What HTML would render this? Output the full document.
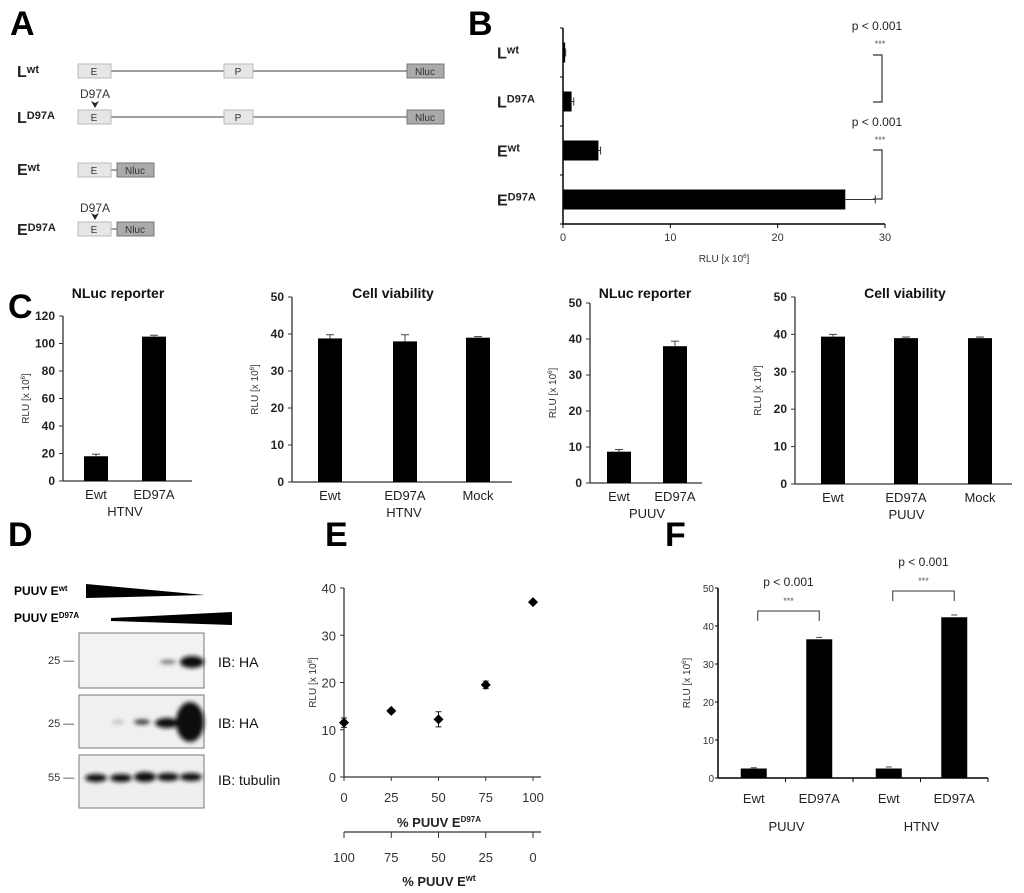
<!DOCTYPE html>
<html><head><meta charset="utf-8"><style>
html,body{margin:0;padding:0;background:#fff;}
svg{display:block;font-family:"Liberation Sans",Arial,sans-serif;}
</style></head><body>
<svg id="fig" width="1024" height="893" viewBox="0 0 1024 893">
<g font-weight="bold" font-size="34" fill="#000">
<text x="10" y="35">A</text>
<text x="468" y="35">B</text>
<text x="8" y="318">C</text>
<text x="8" y="546">D</text>
<text x="325" y="546">E</text>
<text x="665" y="546">F</text>
</g>
<g font-size="11" fill="#333">
<g font-size="16" font-weight="bold" fill="#222">
<text x="17" y="77">L<tspan font-size="11" dy="-4">wt</tspan></text>
<text x="17" y="123">L<tspan font-size="11" dy="-4">D97A</tspan></text>
<text x="17" y="175">E<tspan font-size="11" dy="-4">wt</tspan></text>
<text x="17" y="235">E<tspan font-size="11" dy="-4">D97A</tspan></text>
</g>
<g stroke="#666" stroke-width="1.2">
<line x1="111" y1="71" x2="407" y2="71"/><line x1="111" y1="117" x2="407" y2="117"/>
<line x1="111" y1="170" x2="117" y2="170"/><line x1="111" y1="229" x2="117" y2="229"/>
</g>
<g fill="#e6e6e6" stroke="#bbb">
<rect x="78" y="64" width="33" height="14"/><rect x="224" y="64" width="29" height="14"/>
<rect x="78" y="110" width="33" height="14"/><rect x="224" y="110" width="29" height="14"/>
<rect x="78" y="163" width="33" height="14"/><rect x="78" y="222" width="33" height="14"/>
</g>
<g fill="#aaa" stroke="#777">
<rect x="407" y="64" width="37" height="14"/><rect x="407" y="110" width="37" height="14"/>
<rect x="117" y="163" width="37" height="14"/><rect x="117" y="222" width="37" height="14"/>
</g>
<g text-anchor="middle" font-size="10">
<text x="94" y="75">E</text><text x="238" y="75">P</text><text x="425" y="75">Nluc</text>
<text x="94" y="121">E</text><text x="238" y="121">P</text><text x="425" y="121">Nluc</text>
<text x="94" y="174">E</text><text x="135" y="174">Nluc</text>
<text x="94" y="233">E</text><text x="135" y="233">Nluc</text>
<text x="95" y="98" font-size="12">D97A</text><text x="95" y="212" font-size="12">D97A</text>
</g>
<path d="M91 101 L95 108 L99 101 L95 103Z" fill="#222"/>
<path d="M91 213 L95 220 L99 213 L95 215Z" fill="#222"/>
</g>
<g>
<text x="14" y="595" font-size="12" font-weight="bold">PUUV E<tspan font-size="8" dy="-4">wt</tspan></text>
<text x="14" y="622" font-size="12" font-weight="bold">PUUV E<tspan font-size="8" dy="-4">D97A</tspan></text>
<path d="M86 584 L205 595 L86 598Z" fill="#000"/>
<path d="M111 618 L232 612 L232 625 L111 621Z" fill="#000"/>
<defs><filter id="bl"><feGaussianBlur stdDeviation="2"/></filter></defs>
<rect x="79" y="633" width="125" height="55" fill="#f2f2f2" stroke="#777"/>
<rect x="79" y="695" width="125" height="53" fill="#f0f0f0" stroke="#777"/>
<rect x="79" y="755" width="125" height="53" fill="#efefef" stroke="#777"/>
<g filter="url(#bl)" fill="#111">
<ellipse cx="168" cy="662" rx="8" ry="2" fill="#666"/>
<ellipse cx="192" cy="662" rx="12" ry="6"/>
<ellipse cx="118" cy="722" rx="6" ry="1.5" fill="#aaa"/>
<ellipse cx="142" cy="722" rx="8" ry="2.5" fill="#333"/>
<ellipse cx="167" cy="723" rx="12" ry="5"/>
<ellipse cx="190" cy="722" rx="14" ry="20"/>
<ellipse cx="96" cy="778" rx="11" ry="4"/><ellipse cx="121" cy="778" rx="11" ry="4"/>
<ellipse cx="145" cy="777" rx="11" ry="5"/><ellipse cx="168" cy="777" rx="11" ry="4"/>
<ellipse cx="191" cy="777" rx="11" ry="4"/>
</g>
<g font-size="11" fill="#333">
<text x="48" y="664">25 —</text><text x="48" y="727">25 —</text><text x="48" y="781">55 —</text>
</g>
<g font-size="14" fill="#111">
<text x="218" y="667">IB: HA</text><text x="218" y="728">IB: HA</text><text x="218" y="785">IB: tubulin</text>
</g>
</g>
<g id="charts"></g>
</svg>
<script>
const bCats = ['wt','D97A','wt','D97A'];
const bPrefix = ['L','L','E','E'];
const bVals = [0.2, 0.8, 3.3, 26.3];
const bErr = [0.05, 0.2, 0.2, 2.8];
const bTicks = [0,10,20,30];
const c1Cats = ['Ewt','ED97A']; const c1Vals = [18, 105]; const c1Err = [1.5, 1];
const c2Cats = ['Ewt','ED97A','Mock']; const c2Vals = [38.8, 38, 39]; const c2Err = [1, 1.8, 0.3];
const c3Cats = ['Ewt','ED97A']; const c3Vals = [8.7, 38]; const c3Err = [0.6, 1.4];
const c4Cats = ['Ewt','ED97A','Mock']; const c4Vals = [39.4, 39, 39]; const c4Err = [0.6, 0.3, 0.3];
const c1Ticks = [0,20,40,60,80,100,120];
const c50Ticks = [0,10,20,30,40,50];
const eX = [0,25,50,75,100];
const eY = [11.5, 14, 12.2, 19.5, 37];
const eErr = [1, 0.4, 1.6, 0.8, 0.3];
const eYTicks = [0,10,20,30,40];
const eXTicks2 = [100,75,50,25,0];
const fCats = ['Ewt','ED97A','Ewt','ED97A'];
const fVals = [2.5, 36.5, 2.5, 42.3];
const fErr = [0.2, 0.5, 0.4, 0.6];
const fTicks = [0,10,20,30,40,50];

const NS='http://www.w3.org/2000/svg';
const root=document.getElementById('charts');
function mk(tag, attrs, parent, txt){const e=document.createElementNS(NS,tag);for(const k in attrs)e.setAttribute(k,attrs[k]);if(txt!==undefined)e.textContent=txt;(parent||root).appendChild(e);return e;}

(function(){
 const g=mk('g',{});
 
 
 const x0=563,x1=885,yt=28,yb=224;
 const sx=v=>x0+(v-bTicks[0])/(bTicks[bTicks.length-1]-bTicks[0])*(x1-x0);
 const band=(yb-yt)/bVals.length;
 mk('line',{x1:x0,y1:yt,x2:x0,y2:yb,stroke:'#000','stroke-width':1.5},g);
 mk('line',{x1:x0,y1:yb,x2:x1,y2:yb,stroke:'#000','stroke-width':1.5},g);
 for(let i=0;i<=bVals.length;i++) mk('line',{x1:x0-3,y1:yt+i*band,x2:x0,y2:yt+i*band,stroke:'#000'},g);
 bTicks.forEach(t=>{mk('line',{x1:sx(t),y1:yb,x2:sx(t),y2:yb+4,stroke:'#000'},g);
  mk('text',{x:sx(t),y:yb+17,'text-anchor':'middle','font-size':11,fill:'#333'},g,String(t));});
 const ax=mk('text',{x:724,y:262,'text-anchor':'middle','font-size':10,fill:'#333'},g,'RLU [x 10');
 mk('tspan',{'font-size':6,dy:-4},ax,'6');mk('tspan',{dy:4},ax,']');
 bVals.forEach((v,i)=>{const cy=yt+band*(i+0.5);
  const r=mk('rect',{x:x0,y:cy-10,width:sx(v)-x0,height:20,fill:'#000'},g);
  
  
  const xe=sx(v+bErr[i]);
  mk('line',{x1:sx(v),y1:cy,x2:xe,y2:cy,stroke:'#333'},g);
  mk('line',{x1:xe,y1:cy-4,x2:xe,y2:cy+4,stroke:'#333'},g);
  const t=mk('text',{x:497,y:cy+6,'font-size':16,'font-weight':'bold',fill:'#222'},g,bPrefix[i]);
  mk('tspan',{'font-size':11,dy:-5},t,bCats[i]);
 });
 [[55,102,30],[150,199,126]].forEach(b=>{
  mk('path',{d:`M873 ${b[0]} H882 V${b[1]} H873`,fill:'none',stroke:'#333','stroke-width':1.2},g);
  mk('text',{x:877,y:b[2],'text-anchor':'middle','font-size':12,fill:'#222'},g,'p < 0.001');
  mk('text',{x:880,y:b[2]+17,'text-anchor':'middle','font-size':9,fill:'#555'},g,'***');
 });
})();

function vbar(name,cats,vals,errs,ticks,ax,yTop,yBot,xEnd,centers,title,titleX,group,boldTicks){
 const g=mk('g',{});
 
 
 const maxT=ticks[ticks.length-1];
 const sy=v=>yBot-(v/maxT)*(yBot-yTop);
 mk('line',{x1:ax,y1:yTop,x2:ax,y2:yBot,stroke:'#333','stroke-width':1.3},g);
 mk('line',{x1:ax,y1:yBot,x2:xEnd,y2:yBot,stroke:'#333','stroke-width':1.3},g);
 ticks.forEach(t=>{mk('line',{x1:ax-4,y1:sy(t),x2:ax,y2:sy(t),stroke:'#333'},g);
  mk('text',{x:ax-8,y:sy(t)+4,'text-anchor':'end','font-size':boldTicks?12:11,'font-weight':boldTicks?'bold':'normal',fill:'#222'},g,String(t));});
 vals.forEach((v,i)=>{const cx=centers[i];
  const r=mk('rect',{x:cx-12,y:sy(v),width:24,height:yBot-sy(v),fill:'#000'},g);
  
  
  const ye=sy(v+errs[i]);
  mk('line',{x1:cx,y1:sy(v),x2:cx,y2:ye,stroke:'#444'},g);
  mk('line',{x1:cx-4,y1:ye,x2:cx+4,y2:ye,stroke:'#444'},g);
  mk('text',{x:cx,y:yBot+18,'text-anchor':'middle','font-size':13,fill:'#222'},g,cats[i]);
 });
 const mid=(centers[0]+centers[centers.length-1])/2;
 mk('text',{x:mid,y:yBot+35,'text-anchor':'middle','font-size':13,fill:'#222'},g,group);
 mk('text',{x:titleX,y:298,'text-anchor':'middle','font-size':14,'font-weight':'bold',fill:'#111'},g,title);
 const yl=mk('text',{x:0,y:0,'text-anchor':'middle','font-size':10,fill:'#333',transform:`translate(${ax-34},${(yTop+yBot)/2}) rotate(-90)`},g,'RLU [x 10');
 mk('tspan',{'font-size':6,dy:-4},yl,'6');mk('tspan',{dy:4},yl,']');
}
vbar('panel-c-htnv-nluc',c1Cats,c1Vals,c1Err,c1Ticks,63,316,481,192,[96,154],'NLuc reporter',118,'HTNV',true);
vbar('panel-c-htnv-viability',c2Cats,c2Vals,c2Err,c50Ticks,292,297,482,512,[330,405,478],'Cell viability',393,'HTNV',true);
vbar('panel-c-puuv-nluc',c3Cats,c3Vals,c3Err,c50Ticks,590,303,483,702,[619,675],'NLuc reporter',645,'PUUV',true);
vbar('panel-c-puuv-viability',c4Cats,c4Vals,c4Err,c50Ticks,795,297,484,1012,[833,906,980],'Cell viability',905,'PUUV',true);

(function(){
 const g=mk('g',{});
 
 
 const x0=344,x1=533,y0=777,y1=588;
 const sx=v=>x0+v/100*(x1-x0), sy=v=>y0-v/40*(y0-y1);
 mk('line',{x1:x0,y1:y1,x2:x0,y2:y0,stroke:'#333','stroke-width':1.3},g);
 mk('line',{x1:x0,y1:y0,x2:x1+8,y2:y0,stroke:'#333','stroke-width':1.3},g);
 eYTicks.forEach(t=>{mk('line',{x1:x0-4,y1:sy(t),x2:x0,y2:sy(t),stroke:'#333'},g);
  mk('text',{x:x0-8,y:sy(t)+5,'text-anchor':'end','font-size':13,fill:'#333'},g,String(t));});
 eX.forEach(t=>{mk('line',{x1:sx(t),y1:y0,x2:sx(t),y2:y0+4,stroke:'#333'},g);
  mk('text',{x:sx(t),y:y0+25,'text-anchor':'middle','font-size':13,fill:'#333'},g,String(t));});
 const l1=mk('text',{x:439,y:827,'text-anchor':'middle','font-size':13,'font-weight':'bold',fill:'#222'},g,'% PUUV E');
 mk('tspan',{'font-size':8,dy:-5},l1,'D97A');
 mk('line',{x1:x0,y1:832,x2:x1+8,y2:832,stroke:'#333','stroke-width':1.3},g);
 eXTicks2.forEach((t,i)=>{const x=sx(eX[i]);mk('line',{x1:x,y1:832,x2:x,y2:838,stroke:'#333'},g);
  mk('text',{x:x,y:862,'text-anchor':'middle','font-size':13,fill:'#333'},g,String(t));});
 const l2=mk('text',{x:439,y:886,'text-anchor':'middle','font-size':13,'font-weight':'bold',fill:'#222'},g,'% PUUV E');
 mk('tspan',{'font-size':9,dy:-5},l2,'wt');
 const yl=mk('text',{x:0,y:0,'text-anchor':'middle','font-size':10,fill:'#333',transform:`translate(316,${(y0+y1)/2}) rotate(-90)`},g,'RLU [x 10');
 mk('tspan',{'font-size':6,dy:-4},yl,'6');mk('tspan',{dy:4},yl,']');
 eX.forEach((x,i)=>{const cx=sx(x),cy=sy(eY[i]);
  const t=sy(eY[i]+eErr[i]),b=sy(eY[i]-eErr[i]);
  mk('path',{d:`M${cx} ${t} V${b} M${cx-3} ${t} H${cx+3} M${cx-3} ${b} H${cx+3}`,stroke:'#222',fill:'none'},g);
  const p=mk('path',{d:`M${cx} ${cy-5} L${cx+5} ${cy} L${cx} ${cy+5} L${cx-5} ${cy}Z`,fill:'#000'},g);
  
  
 });
})();

(function(){
 const g=mk('g',{});
 
 
 const x0=718,x1=988,y0=778,y1=588;
 const sy=v=>y0-v/50*(y0-y1);
 const bw=(x1-x0)/fVals.length;
 mk('line',{x1:x0,y1:y1,x2:x0,y2:y0,stroke:'#000','stroke-width':1.5},g);
 mk('line',{x1:x0,y1:y0,x2:x1,y2:y0,stroke:'#000','stroke-width':1.5},g);
 fTicks.forEach(t=>{mk('line',{x1:x0-3,y1:sy(t),x2:x0,y2:sy(t),stroke:'#000'},g);
  mk('text',{x:x0-4,y:sy(t)+4,'text-anchor':'end','font-size':10,fill:'#333'},g,String(t));});
 const cx=[];
 fVals.forEach((v,i)=>{const c=x0+bw*(i+0.5)+(i%2?0:2);cx.push(c);
  mk('line',{x1:x0+bw*(i+1),y1:y0,x2:x0+bw*(i+1),y2:y0+4,stroke:'#000'},g);
  const r=mk('rect',{x:c-13,y:sy(v),width:26,height:y0-sy(v),fill:'#000'},g);
  
  
  const ye=sy(v+fErr[i]);
  mk('line',{x1:c-3,y1:ye,x2:c+3,y2:ye,stroke:'#444'},g);
  mk('text',{x:c,y:803,'text-anchor':'middle','font-size':13,fill:'#222'},g,fCats[i]);
 });
 mk('text',{x:(cx[0]+cx[1])/2,y:831,'text-anchor':'middle','font-size':13,fill:'#222'},g,'PUUV');
 mk('text',{x:(cx[2]+cx[3])/2,y:831,'text-anchor':'middle','font-size':13,fill:'#222'},g,'HTNV');
 [[0,611,586],[2,591,566]].forEach(b=>{const a=cx[b[0]]+4,c=cx[b[0]+1];
  mk('path',{d:`M${a} ${b[1]+10} V${b[1]} H${c} V${b[1]+10}`,fill:'none',stroke:'#333'},g);
  mk('text',{x:(a+c)/2,y:b[2],'text-anchor':'middle','font-size':12,fill:'#222'},g,'p < 0.001');
  mk('text',{x:(a+c)/2,y:b[2]+18,'text-anchor':'middle','font-size':9,fill:'#555'},g,'***');
 });
 const yl=mk('text',{x:0,y:0,'text-anchor':'middle','font-size':10,fill:'#333',transform:`translate(690,${(y0+y1)/2}) rotate(-90)`},g,'RLU [x 10');
 mk('tspan',{'font-size':6,dy:-4},yl,'6');mk('tspan',{dy:4},yl,']');
})();
</script>
</body></html>
